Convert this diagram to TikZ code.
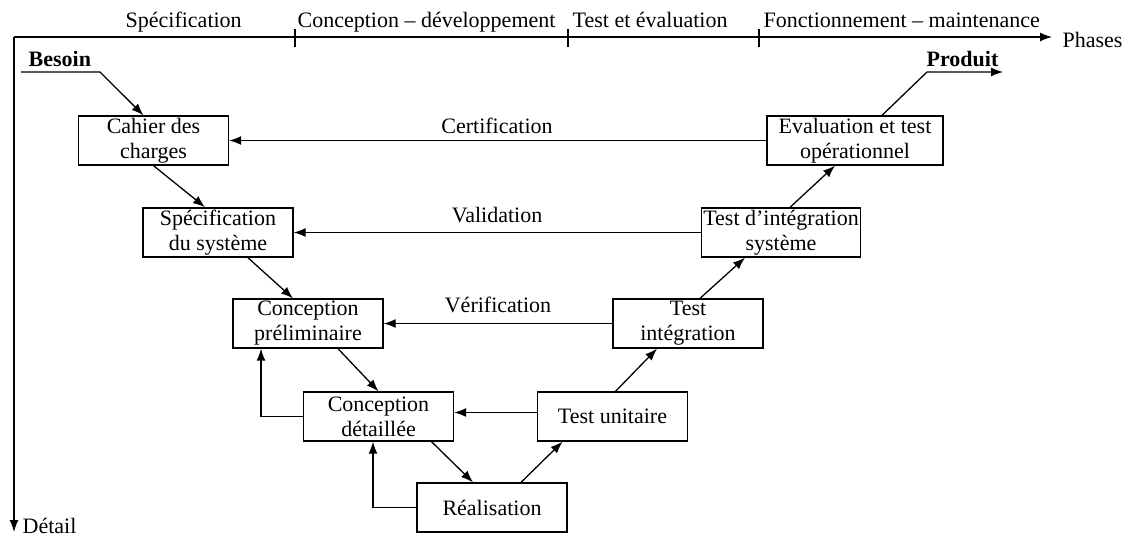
\documentclass[tikz,border=0pt]{standalone}
\usepackage{fontspec}
\setmainfont{Liberation Serif}
\usetikzlibrary{arrows.meta}

\begin{document}
\begin{tikzpicture}[x=1pt, y=-1pt, line width=1.3pt,
  font=\fontsize{22}{25}\selectfont,
  box/.style={rectangle, draw, align=center, minimum width=150pt, minimum height=49pt, inner sep=2pt},
  arr/.style={-{Latex[length=12pt, width=9pt]}},
  lbl/.style={inner sep=0pt}]
\useasboundingbox (0,0) rectangle (1129,536);

% axes
\coordinate (o) at (14,37);
\coordinate (ph) at (1052,37);
\coordinate (dt) at (14,532);
\draw[arr] (o) -- (ph);
\draw[arr] (o) -- (dt);
\foreach \tx in {295,568,759}
  \draw (\tx,29) -- (\tx,47);
\node[lbl, anchor=base west] (t1) at (125,27) {Spécification};
\node[lbl, anchor=base west] (t2) at (297,27) {Conception -- développement};
\node[lbl, anchor=base west] (t3) at (572,27) {Test et évaluation};
\node[lbl, anchor=base west] (t4) at (763,27) {Fonctionnement -- maintenance};
\node[lbl, anchor=base west] (phases) at (1062,47) {Phases};
\node[lbl, anchor=base west] (detail-lbl) at (22,533) {Détail};

% boxes
\node[box] (cahier) at (153.5,140.5) {Cahier des\\charges};
\node[box] (spec) at (218,232.5) {Spécification\\du système};
\node[box] (prelim) at (308,323.5) {Conception\\préliminaire};
\node[box] (detail) at (378.5,416.5) {Conception\\détaillée};
\node[box] (real) at (492,507.5) {Réalisation};
\node[box] (unit) at (612.5,416.5) {Test unitaire};
\node[box] (integ) at (688,323.5) {Test\\intégration};
\node[box, minimum width=154pt] (intsys) at (781,232.5) {Test d'intégration\\système};
\node[box, minimum width=176pt] (eval) at (855,140.5) {Evaluation et test\\opérationnel};

\node[lbl, anchor=base west] (besoin) at (28,66) {\textbf{Besoin}};
\node[lbl, anchor=base west] (produit) at (926,66) {\textbf{Produit}};
\coordinate (b0) at (21,72);
\coordinate (b1) at (100,72);
\coordinate (p1) at (927,72);
\coordinate (p2) at (1003,72);

% descending branch
\draw[arr] (b0) -- (b1) -- ([xshift=-10pt]cahier.north);
\draw[arr] (cahier.south) -- ([xshift=-13pt]spec.north);
\draw[arr] ([xshift=30pt]spec.south) -- ([xshift=-15pt]prelim.north);
\draw[arr] ([xshift=30pt]prelim.south) -- (detail.north);
\draw[arr] ([xshift=53pt]detail.south) -- ([xshift=-19pt]real.north);

% ascending branch
\draw[arr] ([xshift=29pt]real.north) -- ([xshift=-50pt]unit.south);
\draw[arr] ([xshift=3pt]unit.north) -- ([xshift=-31pt]integ.south);
\draw[arr] ([xshift=12pt]integ.north) -- ([xshift=-36pt]intsys.south);
\draw[arr] ([xshift=9pt]intsys.north) -- ([xshift=-20pt]eval.south);
\draw[arr] ([xshift=27pt]eval.north) -- (p1) -- (p2);

% feedback
\draw[arr] (eval.west) -- (cahier.east);
\draw[arr] (intsys.west) -- (spec.east);
\draw[arr] (integ.west) -- (prelim.east);
\draw[arr] ([yshift=4pt]unit.west) -- ([yshift=4pt]detail.east);
\draw[arr] (detail.west) -| ([xshift=-47pt]prelim.south);
\draw[arr] (real.west) -| ([xshift=-5.5pt]detail.south);
\node[lbl, anchor=base] (certif) at (497,133) {Certification};
\node[lbl, anchor=base] (valid) at (497,222) {Validation};
\node[lbl, anchor=base] (verif) at (498,312) {Vérification};

\end{tikzpicture}
\end{document}
